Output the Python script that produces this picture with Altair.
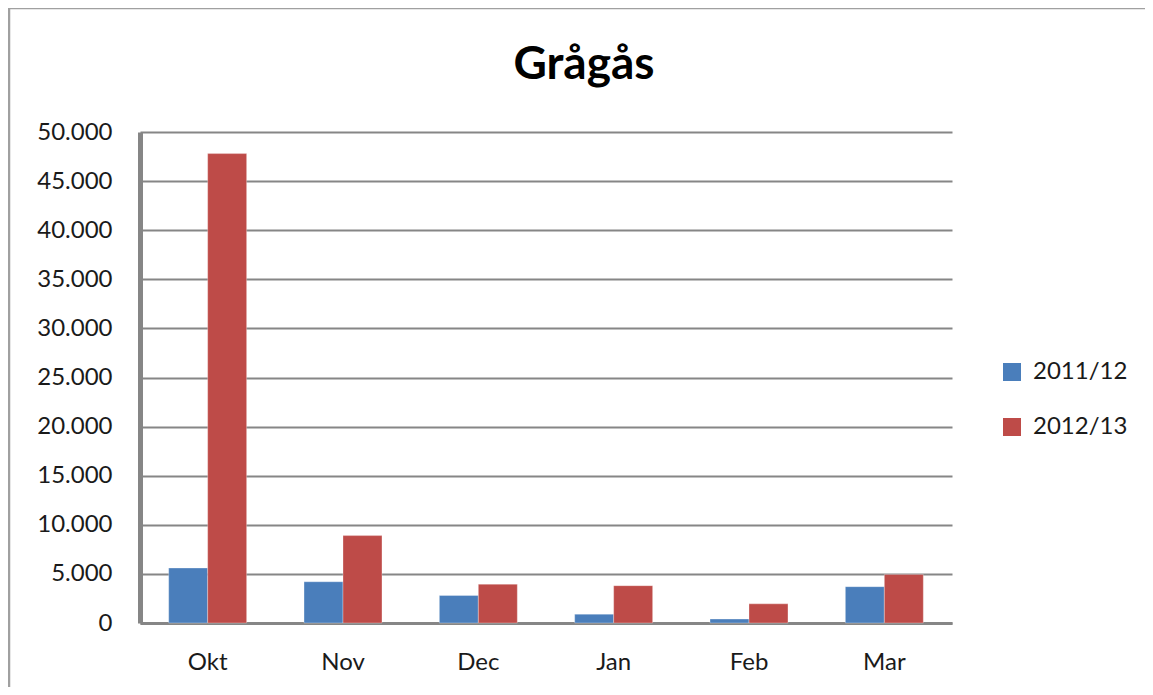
import altair as alt
import pandas as pd

months = ["Okt", "Nov", "Dec", "Jan", "Feb", "Mar"]
series = ["2011/12", "2012/13"]
values_2011_12 = [5600, 4200, 2800, 900, 400, 3700]
values_2012_13 = [47800, 8900, 3950, 3800, 1950, 4950]
y_ticks = [0, 5000, 10000, 15000, 20000, 25000, 30000, 35000, 40000, 45000, 50000]
colors = ["#4A7EBB", "#BE4B48"]

rows = []
for m, a, b in zip(months, values_2011_12, values_2012_13):
    rows.append({"month": m, "series": series[0], "value": a})
    rows.append({"month": m, "series": series[1], "value": b})
df = pd.DataFrame(rows)

FONT = "Lato"

bars = alt.Chart(df).mark_bar(stroke="white", strokeWidth=0.5, strokeOpacity=0.6).encode(
    x=alt.X("month:N", sort=months, title=None,
            scale=alt.Scale(paddingInner=0.424, paddingOuter=0.212),
            axis=alt.Axis(labelAngle=0, ticks=False, labelPadding=27, domain=True,
                          domainColor="#868686", domainWidth=3, labelFont=FONT,
                          labelFontSize=24, labelColor="#1a1a1a", grid=False)),
    xOffset=alt.XOffset("series:N", sort=series),
    y=alt.Y("value:Q", title=None,
            scale=alt.Scale(domain=[0, 50000], nice=False),
            axis=alt.Axis(values=y_ticks, ticks=False, labelPadding=28,
                          domainColor="#868686", domainWidth=5,
                          gridColor="#868686", gridWidth=2,
                          labelFont=FONT, labelFontSize=24, labelColor="#1a1a1a",
                          labelExpr="replace(format(datum.value, ',d'), ',', '.')")),
    color=alt.Color("series:N", sort=series, title=None,
                    scale=alt.Scale(domain=series, range=colors),
                    legend=alt.Legend(orient="none", legendX=860, legendY=228,
                                      symbolType="square", symbolSize=324,
                                      symbolStrokeWidth=0, labelFont=FONT,
                                      labelFontSize=24, labelColor="#1a1a1a",
                                      rowPadding=31, labelOffset=9)),
)

frame_src = pd.DataFrame({"k": [0]})
frame_top = alt.Chart(frame_src).mark_rule(
    color="#a0a0a0", strokeWidth=2.5, clip=False
).encode(x=alt.value(-131), x2=alt.value(1010), y=alt.value(-124))
frame_left = alt.Chart(frame_src).mark_rule(
    color="#a0a0a0", strokeWidth=2.5, clip=False
).encode(x=alt.value(-131), y=alt.value(-124), y2=alt.value(560))

chart = alt.layer(frame_top, frame_left, bars).properties(
    width=812, height=491,
    padding={"left": 132, "top": 124, "right": 193, "bottom": 64},
    autosize=alt.AutoSizeParams(type="none"),
    title=alt.TitleParams("Grågås", font=FONT, fontSize=46, fontWeight="bold",
                          color="#000000", anchor="middle", frame="group",
                          dx=38, offset=-82),
).configure_view(stroke=None).configure_axis(gridCap="butt")

chart.save("out.html", embed_options={"renderer": "svg", "actions": False})
